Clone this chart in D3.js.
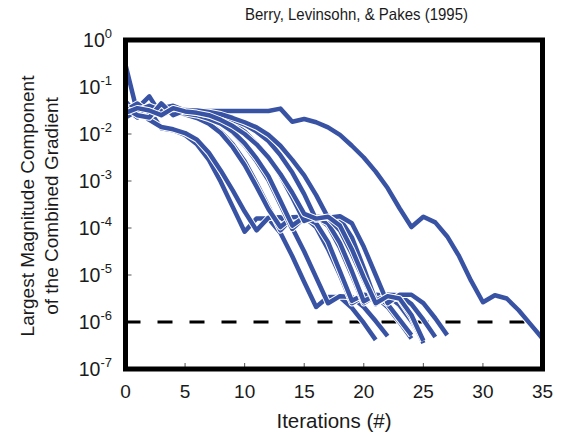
<html>
<head>
<meta charset="utf-8">
<title>BLP gradient convergence</title>
<style>
  body { margin: 0; background: #fff; }
  text { font-family: Arial, 'Liberation Sans', Helvetica, sans-serif; fill: #1a1a1a; }
</style>
<script src="https://cdnjs.cloudflare.com/ajax/libs/d3/7.8.5/d3.min.js"></script>
</head>
<body>
<div id="plot"></div>
<script>
  // log10 of the largest gradient component, one value per iteration (0, 1, 2, ...)
  var runLong = [-0.53, -1.55, -1.45, -1.5, -1.48, -1.51, -1.51, -1.51, -1.51, -1.51, -1.51, -1.51, -1.51, -1.46, -1.74, -1.68,
                 -1.75, -1.86, -2.02, -2.25, -2.5, -2.8, -3.15, -3.58, -3.98, -3.76, -3.88, -4.18, -4.6, -5.12, -5.58, -5.43,
                 -5.5, -5.75, -6.05, -6.35];
  var run1 = [-1.45, -1.65, -1.5, -1.88, -1.92, -2.02, -2.22, -2.55, -3.02, -3.55, -4.08, -3.8, -3.8, -4.1, -4.6, -5.15,
              -5.68, -5.47, -5.47, -5.7, -6.02, -6.38];
  var run2 = [-1.35, -1.5, -1.7, -1.85, -1.9, -1.98, -2.12, -2.4, -2.78, -3.2, -3.65, -4.05, -3.78, -3.77, -4.0, -4.5,
              -5.05, -5.6, -5.45, -5.47, -5.68, -5.98, -6.3];
  var run3 = [-1.55, -1.4, -1.62, -1.5, -1.45, -1.55, -1.62, -1.75, -1.95, -2.22, -2.58, -3.05, -3.55, -4.05, -3.78, -3.76,
              -3.98, -4.45, -5.0, -5.6, -5.45, -5.46, -5.68, -6.0, -6.35];
  var run4 = [-1.3, -1.6, -1.45, -1.55, -1.5, -1.58, -1.66, -1.78, -1.98, -2.28, -2.66, -3.12, -3.6, -3.98, -3.77, -3.76,
              -3.9, -4.3, -4.92, -5.55, -5.42, -5.44, -5.62, -5.95, -6.28];
  var run5 = [-1.6, -1.45, -1.2, -1.6, -1.5, -1.52, -1.57, -1.65, -1.78, -1.97, -2.24, -2.58, -2.98, -3.5, -4.02, -3.78,
              -3.76, -3.95, -4.42, -5.0, -5.6, -5.44, -5.45, -5.66, -6.0, -6.42];
  var run6 = [-1.4, -1.55, -1.5, -1.4, -1.55, -1.56, -1.6, -1.68, -1.78, -1.95, -2.2, -2.52, -2.9, -3.42, -3.95, -3.77,
              -3.77, -3.9, -4.32, -4.92, -5.56, -5.42, -5.44, -5.64, -5.98, -6.38];
  var run7 = [-1.5, -1.35, -1.55, -1.45, -1.4, -1.5, -1.55, -1.6, -1.66, -1.78, -1.95, -2.2, -2.5, -2.88, -3.35, -3.85,
              -3.76, -3.78, -4.05, -4.55, -5.1, -5.62, -5.45, -5.52, -5.9, -6.45];
  var run8 = [-1.65, -1.5, -1.4, -1.5, -1.52, -1.48, -1.52, -1.56, -1.62, -1.7, -1.8, -1.95, -2.15, -2.45, -2.82, -3.28,
              -3.82, -3.74, -3.8, -4.2, -4.85, -5.55, -5.42, -5.43, -5.62, -5.95, -6.32];
  var run9 = [-1.45, -1.6, -1.65, -1.35, -1.6, -1.5, -1.5, -1.53, -1.58, -1.66, -1.75, -1.86, -2.02, -2.25, -2.55, -2.88,
              -3.3, -3.78, -3.75, -3.9, -4.4, -5.0, -5.6, -5.42, -5.42, -5.6, -5.92, -6.28];
  var run10 = [-1.55, -1.45, -1.5, -1.6, -1.45, -1.52, -1.55, -1.6, -1.7, -1.83, -2.0, -2.22, -2.5, -2.85, -3.25, -3.7,
               -3.8, -3.76, -3.95, -4.45, -5.05, -5.6, -5.45, -5.5, -5.85, -6.4];
  var runs = [runLong, run1, run2, run3, run4, run5, run6, run7, run8, run9, run10];

  var iterTicks = [0, 5, 10, 15, 20, 25, 30, 35];
  var decadeTicks = [0, -1, -2, -3, -4, -5, -6, -7];
  var tolerance = -6;

  var w = 567, h = 440;
  var pL = 125.5, pR = 542.5, pT = 40, pB = 369;

  var x = d3.scaleLinear().domain([0, 35]).range([pL, pR]);
  var y = d3.scaleLog().domain([1e-7, 1]).range([pB, pT]);

  var svg = d3.select("#plot").append("svg")
    .attr("width", w)
    .attr("height", h);

  // title + axis titles
  svg.append("text")
    .attr("x", 245).attr("y", 20)
    .attr("textLength", 223)
    .attr("lengthAdjust", "spacingAndGlyphs")
    .style("font-size", "16.5px")
    .text("Berry, Levinsohn, & Pakes (1995)");

  svg.append("text")
    .attr("x", 334).attr("y", 428)
    .attr("text-anchor", "middle")
    .style("font-size", "20.5px")
    .text("Iterations (#)");

  var yt = svg.append("text")
    .attr("transform", "translate(34,206) rotate(-90)")
    .attr("text-anchor", "middle")
    .style("font-size", "19px");
  yt.append("tspan").attr("x", 0).attr("y", 0).text("Largest Magnitude Component");
  yt.append("tspan").attr("x", 0).attr("y", 24).text("of the Combined Gradient");

  // ticks (inside the frame)
  svg.selectAll(".xtick").data(iterTicks.slice(1, -1)).enter().append("line")
    .attr("x1", function(d) { return x(d); })
    .attr("x2", function(d) { return x(d); })
    .attr("y1", pB - 2).attr("y2", pB - 6)
    .attr("stroke", "#555").attr("stroke-width", 1);

  svg.selectAll(".ytick").data(decadeTicks.slice(1, -1)).enter().append("line")
    .attr("x1", pL + 2).attr("x2", pL + 6)
    .attr("y1", function(d) { return y(Math.pow(10, d)); })
    .attr("y2", function(d) { return y(Math.pow(10, d)); })
    .attr("stroke", "#555").attr("stroke-width", 1);

  svg.selectAll(".xlab").data(iterTicks).enter().append("text")
    .attr("x", function(d) { return x(d); })
    .attr("y", 398)
    .attr("text-anchor", "middle")
    .style("font-size", "19px")
    .text(function(d) { return d; });

  var ylab = svg.selectAll(".ylab").data(decadeTicks).enter().append("text")
    .attr("x", 112)
    .attr("y", function(d) { return y(Math.pow(10, d)) + 7; })
    .attr("text-anchor", "end")
    .style("font-size", "19.5px");
  ylab.append("tspan").text("10");
  ylab.append("tspan")
    .attr("dy", -9)
    .style("font-size", "13px")
    .text(function(d) { return d == 0 ? "0" : "-" + Math.abs(d); });

  // tolerance line
  svg.append("line")
    .attr("x1", pL).attr("x2", pR)
    .attr("y1", y(Math.pow(10, tolerance))).attr("y2", y(Math.pow(10, tolerance)))
    .attr("stroke", "#000")
    .attr("stroke-width", 3)
    .attr("stroke-dasharray", "15,17");

  var line = d3.line()
    .x(function(d, i) { return x(i); })
    .y(function(d) { return y(Math.pow(10, d)); });

  var g = svg.selectAll(".run").data(runs).enter().append("g");
  g.append("path")
    .attr("d", line)
    .attr("fill", "none")
    .attr("stroke", "#fff")
    .attr("stroke-width", 6.5)
    .attr("stroke-linejoin", "round");
  g.append("path")
    .attr("d", line)
    .attr("fill", "none")
    .attr("stroke", "#3953a4")
    .attr("stroke-width", 4.5)
    .attr("stroke-linejoin", "round");

  // frame
  svg.append("rect")
    .attr("x", pL).attr("y", pT)
    .attr("width", pR - pL).attr("height", pB - pT)
    .attr("fill", "none")
    .attr("stroke", "#000")
    .attr("stroke-width", 5);
</script>
</body>
</html>
